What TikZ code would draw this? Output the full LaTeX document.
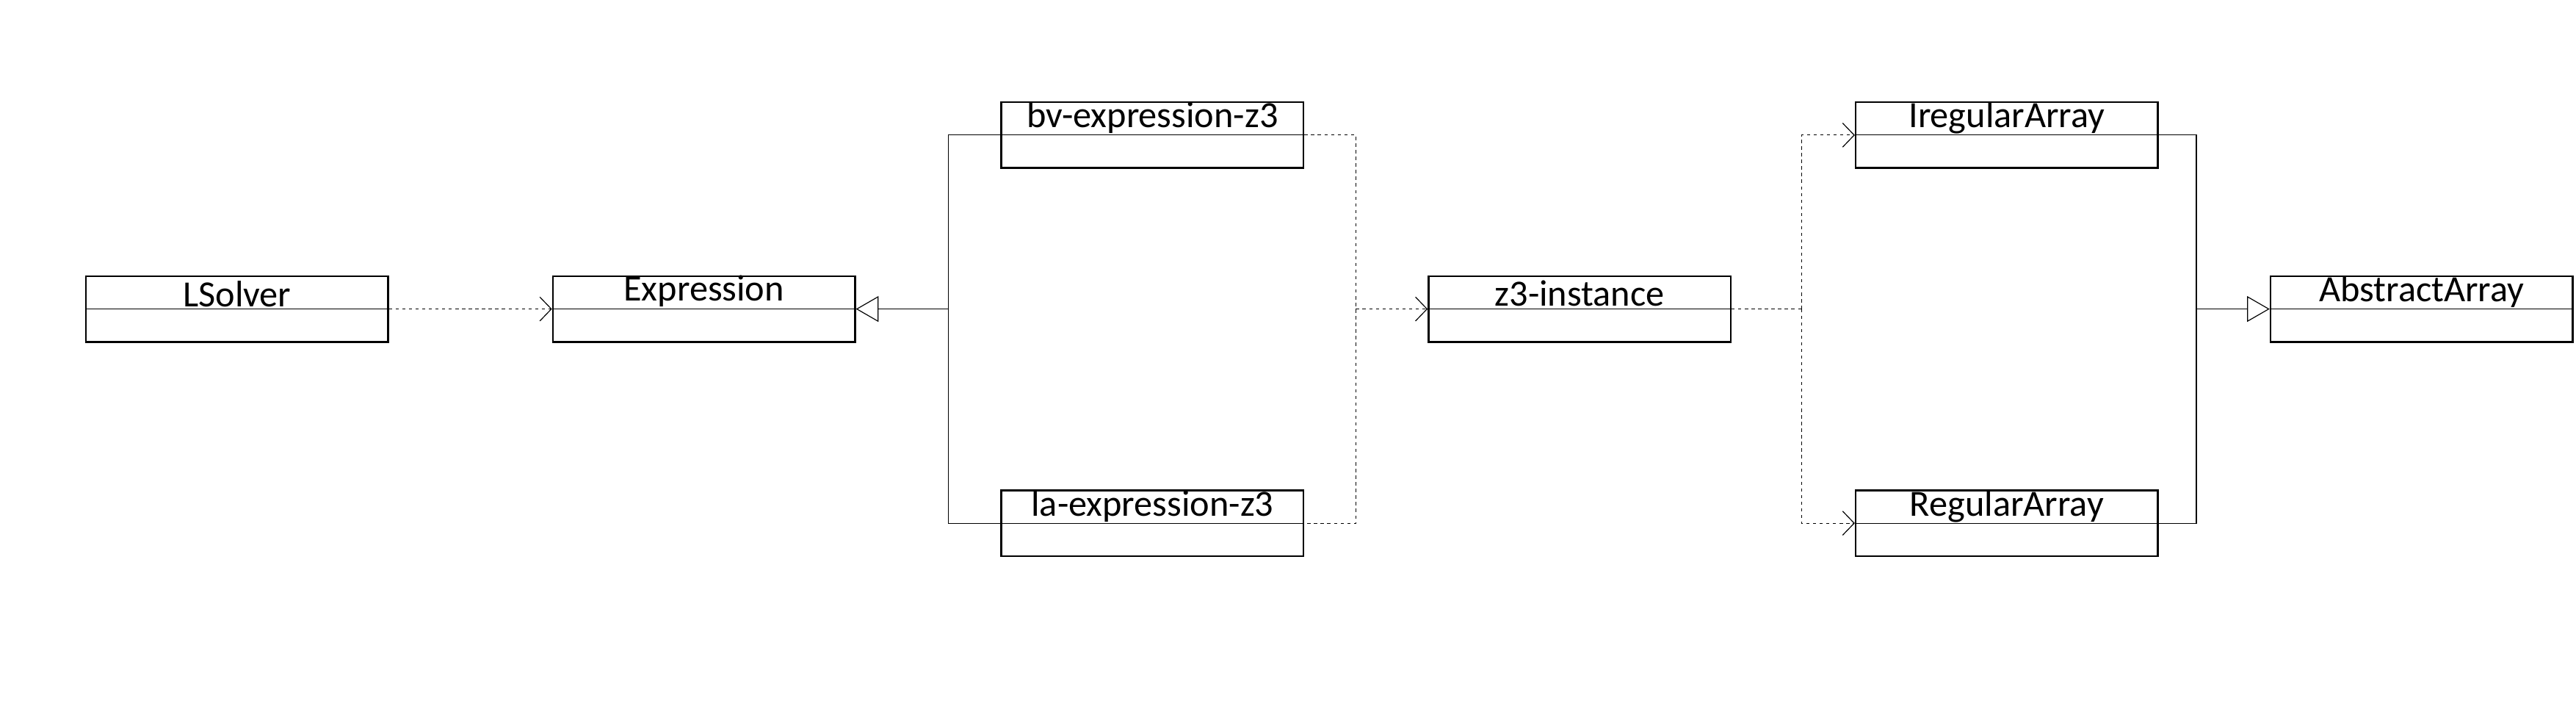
\documentclass[tikz,border=0pt]{standalone}
\usepackage{fontspec}
\setmainfont{Carlito}
\usetikzlibrary{arrows.meta}
\begin{document}
\begin{tikzpicture}[x=0.02cm,y=-0.02cm]

\tikzset{
  classbox/.style={draw, line width=0.6pt, rectangle, inner sep=0pt,
    minimum width=3.68cm, minimum height=0.8cm,
    font=\fontsize{12.8}{14}\selectfont, text height=0.3cm, text depth=#1,
    path picture={\draw[line width=0.3pt] (path picture bounding box.west)
      -- (path picture bounding box.east);}},
  classbox/.default=0.48cm,
  dep/.style={line width=0.3pt, dash pattern=on 1.1pt off 1.2pt},
  gen/.style={line width=0.3pt},
  opentip/.style={-{Straight Barb[length=4pt,width=8.3pt]}},
  gentip/.style={-{Triangle[open,length=7.8pt,width=8.9pt]}}
}
\def\topY{82.2}
\def\midY{188}
\def\botY{318.3}

\useasboundingbox (0,0) rectangle (1568,438);

\draw (144.3,\midY) node[classbox=0.354cm] (lsolver) {LSolver};
\draw (428.5,\midY) node[classbox=0.49cm] (expression) {Expression};

\draw (701.5,\topY) node[classbox] (bvexpr) {bv-expression-z3};
\draw (701.5,\botY) node[classbox] (laexpr) {la-expression-z3};

\draw (961.5,\midY) node[classbox=0.376cm] (zinst) {z3-instance};

\draw (1221.5,\topY) node[classbox] (iregular) {IregularArray};
\draw (1221.5,\botY) node[classbox] (regular) {RegularArray};

\draw (1474,\midY) node[classbox] (abstract) {AbstractArray};

\coordinate (genL) at (577.2,\midY);
\coordinate (depL) at (825.3,\midY);
\coordinate (depR) at (1096.5,\midY);
\coordinate (genR) at (1336.9,\midY);

\draw[dep,opentip] (lsolver) -- (expression);

\draw[gen] (bvexpr) -| (genL) |- (laexpr);
\draw[gen,gentip] (genL) -- (expression);

\draw[dep] (bvexpr) -| (depL) |- (laexpr);
\draw[dep,opentip] (depL) -- (zinst);

\draw[dep] (zinst) -- (depR);
\draw[dep,opentip] (depR) |- (iregular);
\draw[dep,opentip] (depR) |- (regular);

\draw[gen] (iregular) -| (genR) |- (regular);
\draw[gen,gentip] (genR) -- (abstract);

\end{tikzpicture}
\end{document}
